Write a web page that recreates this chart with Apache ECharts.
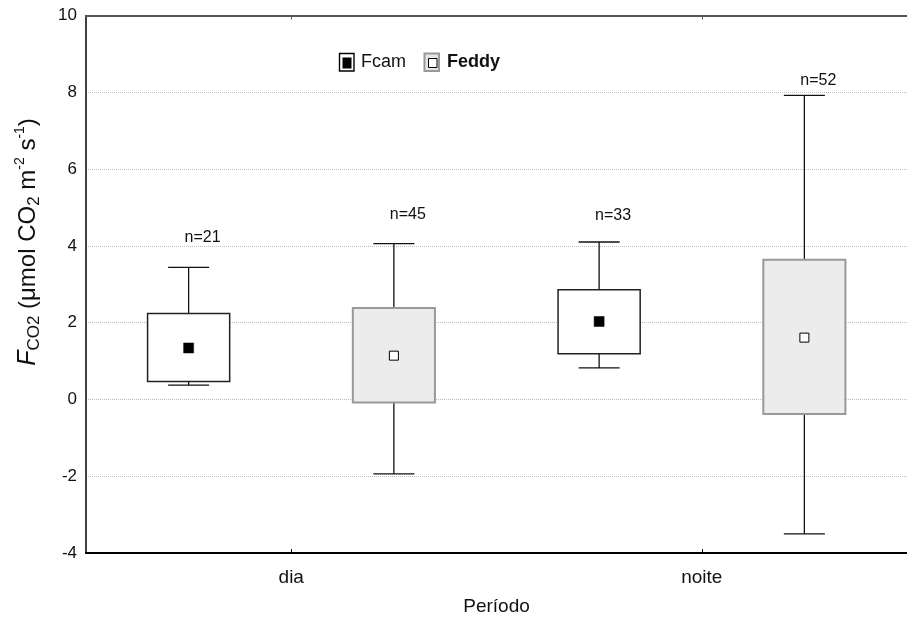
<!DOCTYPE html>
<html>
<head>
<meta charset="utf-8">
<script src="https://cdn.jsdelivr.net/npm/echarts@6/dist/echarts.min.js"></script>
<style>
html,body{margin:0;padding:0;background:#fff;}
#chart{width:907px;height:623px;}
</style>
</head>
<body>
<div id="chart"></div>
<script>
// ---- data ----
const categories = ['dia', 'noite'];
const yTicks = [-4, -2, 0, 2, 4, 6, 8, 10];

const fcamWhiskerLow  = [0.37, 0.82];
const fcamQ1          = [0.47, 1.19];
const fcamQ3          = [2.24, 2.86];
const fcamWhiskerHigh = [3.44, 4.10];
const fcamMean        = [1.34, 2.03];
const fcamN           = [21, 33];
const fcamNLabelAt    = [4.21, 4.78];

const feddyWhiskerLow  = [-1.94, -3.50];
const feddyQ1          = [-0.08, -0.38];
const feddyQ3          = [2.38, 3.64];
const feddyWhiskerHigh = [4.06, 7.92];
const feddyMean        = [1.14, 1.61];
const feddyN           = [45, 52];
const feddyNLabelAt    = [4.81, 8.31];

function buildData(lo, q1, q3, hi, mean, n, nAt) {
  return categories.map((c, i) => [i, lo[i], q1[i], q3[i], hi[i], mean[i], n[i], nAt[i]]);
}

const FONT = '"Liberation Sans", Arial, sans-serif';

function makeRender(side, boxStyle, meanStyle, meanSize) {
  return function (params, api) {
    const cat = api.value(0);
    const band = api.size([1, 0])[0];
    const cx = api.coord([cat, 0])[0] + side * band / 4;
    const yLo = api.coord([cat, api.value(1)])[1];
    const yQ1 = api.coord([cat, api.value(2)])[1];
    const yQ3 = api.coord([cat, api.value(3)])[1];
    const yHi = api.coord([cat, api.value(4)])[1];
    const yMean = api.coord([cat, api.value(5)])[1];
    const yN = api.coord([cat, api.value(7)])[1];
    const bw = band * 0.2;
    const cw = band * 0.1;
    const lineStyle = { stroke: '#111', lineWidth: 1.3, fill: null };
    return {
      type: 'group',
      children: [
        { type: 'line', shape: { x1: cx, y1: yQ3, x2: cx, y2: yHi }, style: lineStyle },
        { type: 'line', shape: { x1: cx - cw / 2, y1: yHi, x2: cx + cw / 2, y2: yHi }, style: lineStyle },
        { type: 'line', shape: { x1: cx, y1: yQ1, x2: cx, y2: yLo }, style: lineStyle },
        { type: 'line', shape: { x1: cx - cw / 2, y1: yLo, x2: cx + cw / 2, y2: yLo }, style: lineStyle },
        { type: 'rect', shape: { x: cx - bw / 2, y: yQ3, width: bw, height: yQ1 - yQ3 }, style: boxStyle },
        { type: 'rect', shape: { x: cx - meanSize / 2, y: yMean - meanSize / 2, width: meanSize, height: meanSize }, style: meanStyle },
        { type: 'text', x: cx + 14, y: yN, style: { text: 'n=' + api.value(6), fontSize: 16, fontFamily: FONT, fill: '#111', align: 'center', verticalAlign: 'middle' } }
      ]
    };
  };
}

const chart = echarts.init(document.getElementById('chart'), null, { renderer: 'canvas' });

const option = {
  backgroundColor: '#fff',
  animation: false,
  grid: { left: 86, right: -9, top: 15.5, bottom: 70, containLabel: false },
  xAxis: [
    {
      type: 'category', data: categories, position: 'bottom', boundaryGap: true,
      axisLine: { onZero: false, lineStyle: { color: '#000', width: 2 } },
      axisTick: { show: true, inside: true, length: 4, alignWithLabel: true, lineStyle: { color: '#000', width: 1 } },
      axisLabel: { fontSize: 19, fontFamily: FONT, color: '#111', margin: 15 },
      splitLine: { show: false },
      name: 'Período', nameLocation: 'middle', nameGap: 44,
      nameTextStyle: { fontSize: 19, fontFamily: FONT, color: '#111' }
    },
    {
      type: 'category', data: categories, position: 'top', boundaryGap: true,
      axisLine: { onZero: false, lineStyle: { color: '#555', width: 2 } },
      axisTick: { show: true, inside: true, length: 4, alignWithLabel: true, lineStyle: { color: '#555', width: 1 } },
      axisLabel: { show: false },
      splitLine: { show: false }
    }
  ],
  yAxis: {
    type: 'value', min: yTicks[0], max: yTicks[yTicks.length - 1], interval: 2,
    axisLine: { show: true, onZero: false, lineStyle: { color: '#000', width: 1.5 } },
    axisTick: { show: false },
    axisLabel: { fontSize: 17, fontFamily: FONT, color: '#111', margin: 9 },
    splitLine: { show: true, lineStyle: { color: '#bdbdbd', type: 'dotted', width: 1 } }
  },
  series: [
    {
      name: 'Fcam', type: 'custom', xAxisIndex: 0, yAxisIndex: 0,
      data: buildData(fcamWhiskerLow, fcamQ1, fcamQ3, fcamWhiskerHigh, fcamMean, fcamN, fcamNLabelAt),
      renderItem: makeRender(-1, { fill: '#fff', stroke: '#222', lineWidth: 1.5 }, { fill: '#000', stroke: '#000', lineWidth: 0.5 }, 10),
      z: 5
    },
    {
      name: 'Feddy', type: 'custom', xAxisIndex: 0, yAxisIndex: 0,
      data: buildData(feddyWhiskerLow, feddyQ1, feddyQ3, feddyWhiskerHigh, feddyMean, feddyN, feddyNLabelAt),
      renderItem: makeRender(1, { fill: '#ececec', stroke: '#999', lineWidth: 2 }, { fill: '#fff', stroke: '#000', lineWidth: 1 }, 9),
      z: 5
    }
  ],
  graphic: [
    // y-axis title
    {
      type: 'text', x: 28, y: 242, rotation: Math.PI / 2, z: 10,
      style: {
        text: '{fi|F}{sub|CO2} (μmol CO{sub|2} m{sup|-2} s{sup|-1})',
        fontSize: 24, fontFamily: FONT, fill: '#111', align: 'center', verticalAlign: 'middle',
        lineHeight: 29,
        rich: {
          fi: { fontSize: 25, fontStyle: 'italic', fontFamily: FONT, fill: '#111', lineHeight: 29 },
          sub: { fontSize: 17, fontFamily: FONT, fill: '#111', verticalAlign: 'bottom', lineHeight: 16 },
          sup: { fontSize: 14, fontFamily: FONT, fill: '#111', verticalAlign: 'top', lineHeight: 14 }
        }
      }
    },
    // legend: Fcam
    { type: 'rect', z: 10, shape: { x: 339.5, y: 53.5, width: 14.5, height: 17.5 }, style: { fill: '#fff', stroke: '#000', lineWidth: 1.4 } },
    { type: 'rect', z: 11, shape: { x: 342.5, y: 57.5, width: 9, height: 11 }, style: { fill: '#000' } },
    { type: 'text', z: 10, x: 361, y: 62.5, style: { text: 'Fcam', fontSize: 18, fontFamily: FONT, fill: '#111', verticalAlign: 'middle' } },
    // legend: Feddy
    { type: 'rect', z: 10, shape: { x: 424.5, y: 53.5, width: 14.5, height: 17.5 }, style: { fill: '#e6e6e6', stroke: '#999', lineWidth: 2 } },
    { type: 'rect', z: 11, shape: { x: 428.5, y: 58.5, width: 8.5, height: 9 }, style: { fill: '#fff', stroke: '#000', lineWidth: 1 } },
    { type: 'text', z: 10, x: 447, y: 62.5, style: { text: 'Feddy', fontSize: 18, fontWeight: 'bold', fontFamily: FONT, fill: '#111', verticalAlign: 'middle' } }
  ]
};

chart.setOption(option);
</script>
</body>
</html>
